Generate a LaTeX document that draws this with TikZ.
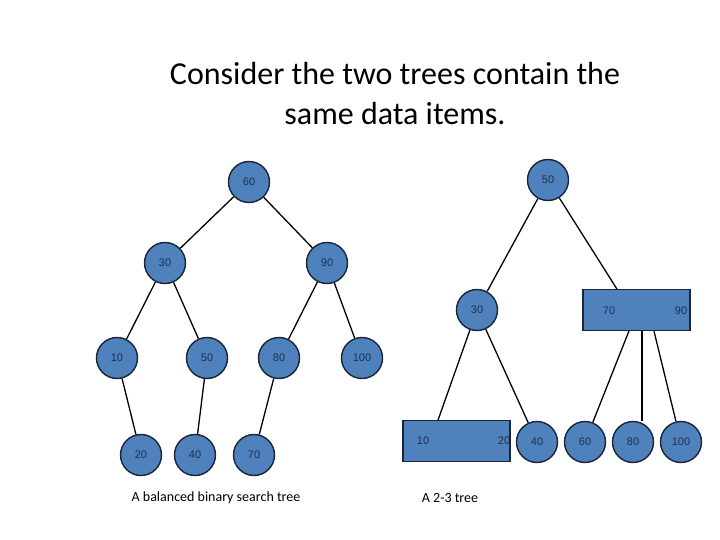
\documentclass[tikz,border=0pt]{standalone}
\usepackage{fontspec}
\setmainfont{Carlito}
\newfontfamily\nodefont{Liberation Sans}
\usetikzlibrary{shapes.misc}
\definecolor{nfill}{HTML}{4F81BD}
\definecolor{nline}{HTML}{1A2638}
\definecolor{ntext}{HTML}{1F2F4F}
\begin{document}
\begin{tikzpicture}[x=1pt,y=-1pt,
  nd/.style={circle,draw=nline,fill=nfill,line width=1.4pt,minimum size=41pt,inner sep=0pt,text=ntext,font=\nodefont\fontsize{11}{13}\selectfont},
  oct/.style={chamfered rectangle,chamfered rectangle xsep=9pt,draw=nline,fill=nfill,line width=1.4pt,minimum width=107pt,minimum height=41pt,inner sep=0pt},
  lbl/.style={text=ntext,font=\nodefont\fontsize{11}{13}\selectfont},
  ed/.style={line width=1.3pt,black}]
\useasboundingbox (0,0) rectangle (720,540);
\node[font=\fontsize{32}{40}\selectfont,align=center] (title) at (395,94) {Consider the two trees contain the\\same data items.};
% left tree
\node[nd] (a60) at (249,182) {60};
\node[nd] (a30) at (165,263) {30};
\node[nd] (a90) at (327,263) {90};
\node[nd] (a10) at (117,358) {10};
\node[nd] (a50) at (207,358) {50};
\node[nd] (a80) at (279,358) {80};
\node[nd] (a100) at (362,358) {100};
\node[nd] (a20) at (141,455) {20};
\node[nd] (a40) at (195,455) {40};
\node[nd] (a70) at (254,455) {70};
\foreach \p/\c in {a60/a30,a60/a90,a30/a10,a30/a50,a90/a80,a90/a100,a10/a20,a50/a40,a80/a70}
  \draw[ed] (\p) -- (\c);
% right tree
\node[nd] (b50) at (548,180) {50};
\node[nd] (b30) at (477,310) {30};
\node[oct] (b7090) at (636.5,310) {};
\node[lbl] (t70) at (609,311) {70};
\node[lbl] (t90) at (681,311) {90};
\node[oct] (b1020) at (456.5,441) {};
\node[lbl] (t10) at (423,441) {10};
\node[lbl] (t20) at (504,441) {20};
\node[nd] (b40) at (537,442) {40};
\node[nd] (b60) at (585,442) {60};
\node[nd] (b80) at (633,442) {80};
\node[nd] (b100) at (681,442) {100};
\draw[ed] (b50) -- (b30);
\draw[ed] (b50) -- (b7090.north west -| 617,0);
\draw[ed] (b30) -- (b1020.north west -| 438,0);
\draw[ed] (b30) -- (b40);
\draw[ed] (b7090.south west -| 629,0) -- (b60);
\draw[ed] (b7090.south -| 642,0) -- (b80.north -| 642,0);
\draw[ed] (b7090.south -| 654,0) -- (b100);
\node[font=\fontsize{14}{17}\selectfont] (c1) at (216,498) {A balanced binary search tree};
\node[font=\fontsize{14}{17}\selectfont] (c2) at (450,498) {A 2-3 tree};
\end{tikzpicture}
\end{document}
